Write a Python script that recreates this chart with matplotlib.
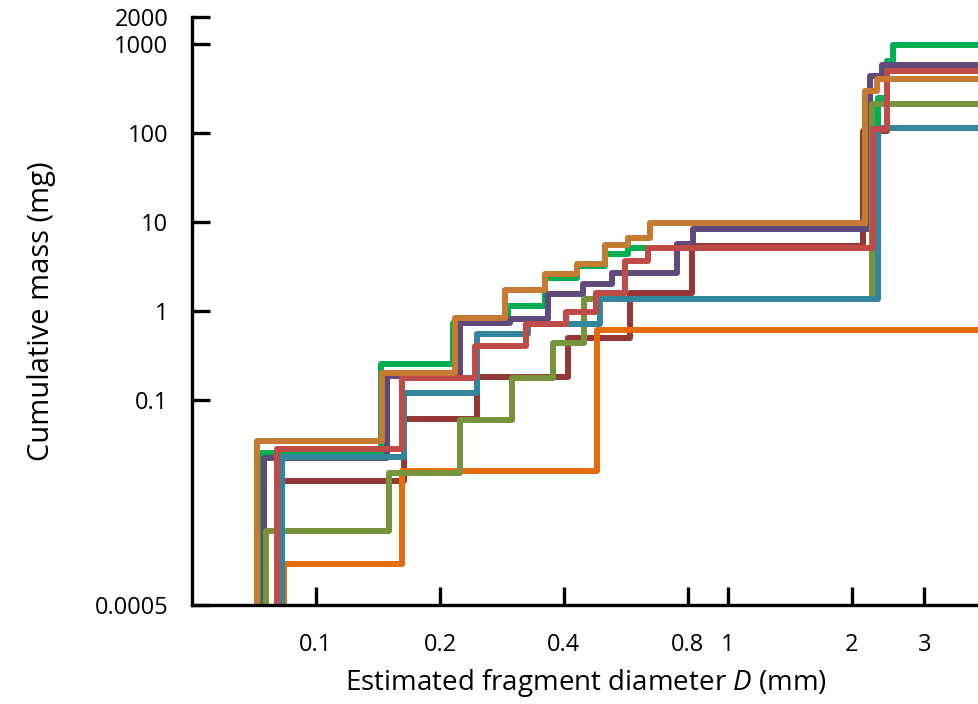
import matplotlib
matplotlib.use('Agg')
import matplotlib.pyplot as plt
from matplotlib.ticker import FixedLocator, FixedFormatter, NullLocator

plt.rcParams['font.family'] = ['Open Sans', 'DejaVu Sans']
plt.rcParams['mathtext.fontset'] = 'custom'
plt.rcParams['mathtext.rm'] = 'Open Sans'
plt.rcParams['mathtext.it'] = 'Open Sans:italic'

# step positions (mm) and cumulative mass after each step (mg)
green_d = [0.0735, 0.144, 0.215, 0.292, 0.360, 0.430, 0.503, 0.572, 2.31, 2.43, 2.52]
green_m = [0.0254, 0.254, 0.733, 1.14, 2.35, 3.2, 4.37, 5.1, 247, 644, 980]

purple_d = [0.0748, 0.149, 0.224, 0.296, 0.366, 0.445, 0.523, 0.752, 0.822, 2.21, 2.37]
purple_m = [0.0223, 0.186, 0.733, 0.81, 1.55, 2.01, 2.67, 5.66, 8.34, 437, 580]

darkred_d = [0.082, 0.164, 0.246, 0.409, 0.578, 0.818, 2.13, 2.43]
darkred_m = [0.0123, 0.0612, 0.18, 0.497, 1.59, 5.38, 105, 497]

orange_d = [0.0835, 0.162, 0.481]
orange_m = [0.00144, 0.0159, 0.61]

olive_d = [0.0757, 0.150, 0.224, 0.299, 0.376, 0.447, 2.24]
olive_m = [0.00337, 0.015, 0.06, 0.177, 0.436, 1.36, 212]

teal_d = [0.0827, 0.164, 0.246, 0.327, 0.489, 2.31]
teal_m = [0.0228, 0.12, 0.551, 0.714, 1.36, 114]

red_d = [0.0804, 0.162, 0.243, 0.324, 0.404, 0.478, 0.562, 0.639, 2.25, 2.43]
red_m = [0.028, 0.177, 0.404, 0.714, 0.97, 1.59, 3.65, 5.1, 111, 497]

brown_d = [0.0719, 0.1446, 0.2175, 0.2876, 0.3596, 0.43, 0.503, 0.572, 0.647, 2.15, 2.30]
brown_m = [0.0346, 0.201, 0.834, 1.72, 2.60, 3.37, 5.51, 6.61, 9.74, 296, 404]

series = [
    (darkred_d, darkred_m, '#953735'),
    (green_d, green_m, '#00B050'),
    (purple_d, purple_m, '#604A7B'),
    (orange_d, orange_m, '#E46C0A'),
    (olive_d, olive_m, '#77933C'),
    (teal_d, teal_m, '#31859C'),
    (red_d, red_m, '#BE4B48'),
    (brown_d, brown_m, '#C67A32'),
]

x_ticks = [0.1, 0.2, 0.4, 0.8, 1, 2, 3]
x_labels = ['0.1', '0.2', '0.4', '0.8', '1', '2', '3']
y_ticks = [0.0005, 0.1, 1, 10, 100, 1000, 2000]
y_labels = ['0.0005', '0.1', '1', '10', '100', '1000', '2000']

fig = plt.figure(figsize=(9.79, 7.04), dpi=100)
ax = fig.add_axes([0.1961, 0.1406, 0.8039, 0.8353])

for d, m, c in series:
    xs = [d[0]] + list(d) + [6]
    ys = [0.0003] + list(m) + [m[-1]]
    ax.step(xs, ys, where='post', color=c, lw=4.3)

ax.set_xscale('log')
ax.set_yscale('log')
ax.set_xlim(0.05, 4.07)
ax.set_ylim(0.0005, 2000)

ax.xaxis.set_major_locator(FixedLocator(x_ticks))
ax.xaxis.set_major_formatter(FixedFormatter(x_labels))
ax.xaxis.set_minor_locator(NullLocator())
ax.yaxis.set_major_locator(FixedLocator(y_ticks))
ax.yaxis.set_major_formatter(FixedFormatter(y_labels))
ax.yaxis.set_minor_locator(NullLocator())

ax.spines['top'].set_visible(False)
ax.spines['right'].set_visible(False)
for s in ['left', 'bottom']:
    ax.spines[s].set_linewidth(2.4)
ax.tick_params(axis='both', direction='in', length=13, width=2.4, labelsize=17)
ax.tick_params(axis='x', pad=20)
ax.tick_params(axis='y', pad=17)

ax.set_xlabel('Estimated fragment diameter $\\it{D}$ (mm)', fontsize=20, labelpad=7)
ax.set_ylabel('Cumulative mass (mg)', fontsize=21, labelpad=28)

fig.savefig('out.png', dpi=100)
